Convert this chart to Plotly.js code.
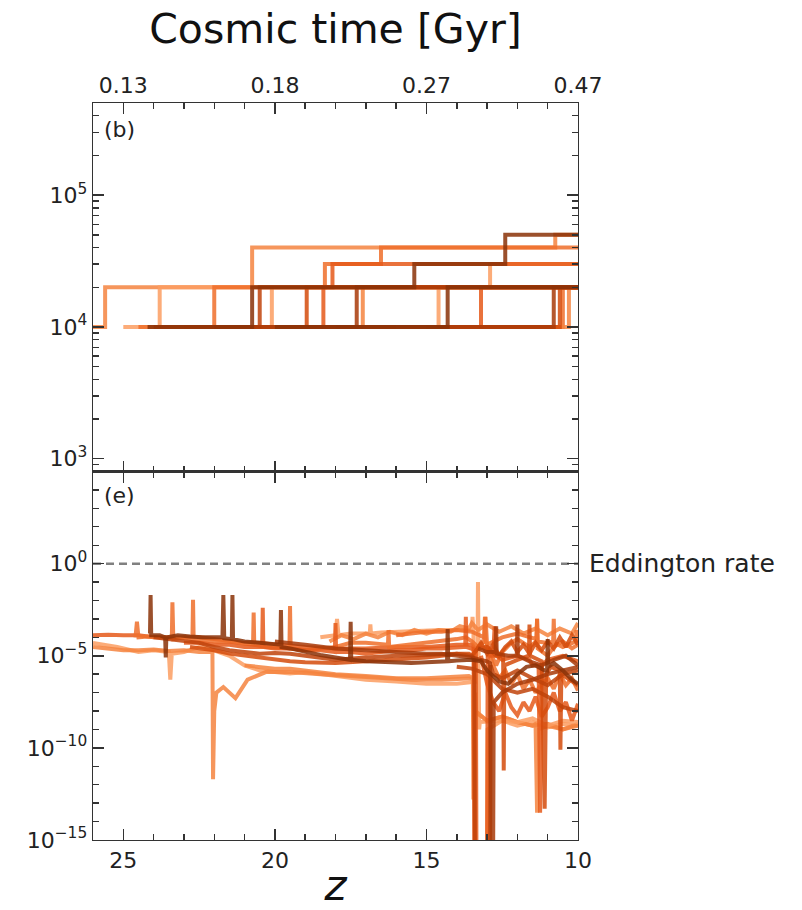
<!DOCTYPE html>
<html>
<head>
<meta charset="utf-8">
<script src="https://cdn.plot.ly/plotly-3.0.1.min.js"></script>
<style>html,body{margin:0;padding:0;background:#fff;}#chart{width:802px;height:910px;}</style>
</head>
<body>
<div id="chart"></div>
<script>
// ---------- axis ticks / labels ----------
const zTickVals = [25, 20, 15, 10];
const zMinorVals = [11, 12, 13, 14, 16, 17, 18, 19, 21, 22, 23, 24];
const zTickText = ['25', '20', '15', '10'];
const cosmicTimeText = ['0.13', '0.18', '0.27', '0.47'];
const zRange = [26, 10];
const massRange = [800, 5e5];
const massTickVals = [1e3, 1e4, 1e5];
const massTickText = ['10<sup>3</sup>', '10<sup>4</sup>', '10<sup>5</sup>'];
const eddRange = [1e-15, 1e5];
const eddTickVals = [1e-15, 1e-10, 1e-5, 1];
const eddTickText = ['10<sup>\u221215</sup>', '10<sup>\u221210</sup>', '10<sup>\u22125</sup>', '10<sup>0</sup>'];
const eddLineZ = [26, 10];
const eddLineV = [1, 1];

// colours (Oranges, light -> dark)
const palette = ['#fb9d62', '#f5843f', '#ee6e2a', '#e5591a', '#d44b0c', '#c0430a', '#a83a08', '#8a3107'];

// ---------- panel (b): BH mass steps ----------
const t1_z = [26, 25.6, 20.75, 10.75, 10];   const t1_m = [1e4, 2e4, 4e4, 5e4, 5e4];
const t3_z = [25.0, 23.8, 12.9, 10];          const t3_m = [1e4, 2e4, 3e4, 3e4];
const t2_z = [24.5, 22.0, 18.35, 16.5, 10];   const t2_m = [1e4, 2e4, 3e4, 4e4, 4e4];
const t6_z = [23.5, 20.1, 10];                const t6_m = [1e4, 2e4, 2e4];
const t8_z = [22.5, 18.4, 18.1, 10];          const t8_m = [1e4, 2e4, 3e4, 3e4];
const t10_z = [21.5, 17.1, 10];               const t10_m = [1e4, 2e4, 2e4];
const t11_z = [21.0, 14.6, 10];               const t11_m = [1e4, 2e4, 2e4];
const t13_z = [19.0, 13.2, 10];               const t13_m = [1e4, 2e4, 2e4];
const t15_z = [17.0, 10.5, 10];               const t15_m = [1e4, 2e4, 2e4];
const t16_z = [16.0, 10.3, 10];               const t16_m = [1e4, 2e4, 2e4];
const t5_z = [24.0, 20.5, 10];                const t5_m = [1e4, 2e4, 2e4];
const t7_z = [23.0, 18.95, 10];               const t7_m = [1e4, 2e4, 2e4];
const t17_z = [15.0, 10.6, 10];               const t17_m = [1e4, 2e4, 2e4];
const t9_z = [22.0, 17.3, 10];                const t9_m = [1e4, 2e4, 2e4];
const t14_z = [18.0, 10.8, 10];               const t14_m = [1e4, 2e4, 2e4];
const t12_z = [20.0, 14.3, 10];               const t12_m = [1e4, 2e4, 2e4];
const t4_z = [24.2, 20.75, 15.4, 12.4, 10];   const t4_m = [1e4, 2e4, 3e4, 5e4, 5e4];

const topSeries = [
  [t1_z, t1_m, 1], [t3_z, t3_m, 0], [t2_z, t2_m, 2], [t6_z, t6_m, 0], [t8_z, t8_m, 3],
  [t10_z, t10_m, 1], [t11_z, t11_m, 0], [t13_z, t13_m, 3], [t15_z, t15_m, 2], [t16_z, t16_m, 1],
  [t5_z, t5_m, 5], [t7_z, t7_m, 4], [t17_z, t17_m, 4], [t9_z, t9_m, 6], [t14_z, t14_m, 6],
  [t12_z, t12_m, 7], [t4_z, t4_m, 7]
];

// ---------- panel (e): accretion rate ----------
const b2_z = [26, 25.2, 24.5, 24, 23.5, 23.45, 23.4, 23.0, 22.5, 22.2, 21.5, 21.0, 20.5, 20.0, 19.5, 19.0, 18.5, 18.0, 17.0, 16.0, 15.0, 14.0, 13.5, 13.32, 13.3, 13.28, 13.26, 13.24, 12.5, 12.0, 11.5, 11.0, 10.5, 10];
const b2_v = [5e-5, 3e-5, 1.6e-5, 2e-5, 1.6e-5, 5e-7, 1.3e-5, 1.6e-5, 3e-5, 2.5e-5, 1e-5, 3e-6, 1.6e-6, 1.3e-6, 1.1e-6, 1.3e-6, 1e-6, 8e-7, 5e-7, 4e-7, 3e-7, 3e-7, 4e-7, 4e-7, 1e-1, 4e-7, 1e-9, 2.5e-9, 3e-9, 1.6e-9, 2.5e-9, 1.3e-9, 2e-9, 1.6e-9];

const b1_z = [26, 25.5, 25, 24.5, 24, 23.5, 23, 22.5, 22.06, 22.04, 22.0, 21.93, 21.7, 21.3, 20.9, 20.3, 19.5, 18.5, 17.5, 16.5, 15.5, 14.5, 13.8, 13.47, 13.45, 13.42, 13.0, 12.5, 12.0, 11.5, 11.0, 10.5, 10];
const b1_v = [3e-5, 2.5e-5, 2e-5, 2e-5, 2.2e-5, 1.8e-5, 2e-5, 1.6e-5, 1.6e-5, 2e-12, 1e-8, 1e-7, 2e-7, 5e-8, 5e-7, 1.3e-6, 1.3e-6, 1e-6, 8e-7, 6e-7, 5e-7, 5e-7, 6e-7, 6e-7, 1.6e-13, 1e-8, 3e-9, 5e-9, 2.5e-9, 1.6e-9, 2e-9, 1e-9, 1.6e-9];

const b8_z = [21.0, 20.5, 20.0, 19.5, 19.0, 18.5, 18.0, 17.0, 16.0, 15.0, 14.0, 13.6, 13.45, 13.42, 13.4, 13.38, 13.0, 12.5, 12.0, 11.5, 11.4, 11.35, 11.3, 11.0, 10.5, 10.0];
const b8_v = [3e-6, 2.5e-6, 2e-6, 2e-6, 1.6e-6, 1.3e-6, 1e-6, 8e-7, 6e-7, 6e-7, 8e-7, 8e-7, 6e-7, 1.6e-13, 1e-7, 1e-8, 3e-9, 5e-9, 2.5e-9, 1.6e-9, 2e-9, 3e-14, 1e-9, 1.6e-9, 1e-9, 2e-9];

const b11_z = [18.5, 18.0, 17.95, 17.9, 17.5, 17.0, 16.87, 16.85, 16.83, 16.5, 16.0, 15.5, 15.0, 14.5, 14.0, 13.5, 13.48, 13.45, 13.4, 13.0, 12.98, 12.5, 12.0, 11.5, 11.0, 10.5, 10.0];
const b11_v = [1e-4, 1.3e-4, 1e-3, 1.3e-4, 1.6e-4, 1.6e-4, 1.6e-4, 5e-4, 1.6e-4, 1.8e-4, 2e-4, 2.2e-4, 2.5e-4, 2.5e-4, 2.5e-4, 2.5e-4, 1.3e-3, 2.5e-4, 1e-16, 1e-16, 1e-9, 3e-9, 2.5e-9, 4e-9, 1.6e-9, 3e-9, 2.5e-9];

const b15_z = [18.2, 17.8, 17.4, 17.0, 16.6, 16.2, 15.8, 15.4, 15.0, 14.6, 14.2, 13.9, 13.6, 13.5, 13.3, 13.0, 12.6, 12.2, 11.8, 11.4, 11.0, 10.6, 10.2, 10.0];
const b15_v = [6e-5, 1.3e-4, 8e-5, 1.6e-4, 1e-4, 2e-4, 1.3e-4, 2.5e-4, 1.6e-4, 2.5e-4, 2e-4, 4e-4, 3e-4, 6e-4, 2.5e-4, 5e-4, 2e-4, 4e-4, 1.6e-4, 3e-4, 1.3e-4, 3e-4, 1.6e-4, 6e-4];

const b13_z = [26, 25.5, 25, 24.5, 24.0, 23.5, 23.1, 22.5, 22.0, 21.5, 21.0, 20.5, 20.0, 19.0, 18.0, 17.0, 16.0, 15.0, 14.0, 13.5, 13.44, 13.42];
const b13_v = [1.3e-4, 1.4e-4, 1.3e-4, 1.3e-4, 1e-4, 1e-4, 1.1e-4, 1e-4, 8e-5, 6e-5, 5e-5, 5e-5, 4e-5, 3e-5, 2.5e-5, 2.5e-5, 3e-5, 3e-5, 4e-5, 4e-5, 3e-5, 1e-16];

const b3_z = [24.6, 24.55, 24.5, 24.2, 23.8, 23.4, 23.38, 23.35, 23.0, 22.72, 22.7, 22.68, 22.3, 21.9, 21.5, 21.0, 20.72, 20.7, 20.68, 20.3, 19.52, 19.5, 19.48, 19.0, 18.5, 18.0, 17.5, 17.0, 16.27, 16.25, 16.23, 15.5, 15.0, 14.5, 14.0, 13.7, 13.5, 13.3, 13.1, 13.05, 13.0, 12.9, 12.7, 12.5, 12.2, 12.0, 11.6, 11.37, 11.35, 11.33, 11.0, 10.8, 10.5, 10.2, 10];
const b3_v = [1e-4, 7e-4, 1e-4, 1.1e-4, 1e-4, 9e-5, 8e-3, 8e-5, 1e-4, 8e-5, 1.1e-2, 8e-5, 7e-5, 6e-5, 6e-5, 5e-5, 4e-5, 2.2e-3, 4e-5, 3e-5, 2.5e-5, 5e-3, 2.5e-5, 2e-5, 2.5e-5, 3e-5, 5e-5, 5e-5, 4e-5, 2.5e-4, 3e-5, 4e-5, 5e-5, 6e-5, 8e-5, 1e-4, 6e-5, 3e-5, 6e-5, 1.3e-3, 4e-5, 1.6e-5, 3e-6, 1.6e-5, 5e-5, 8e-5, 3e-5, 6e-5, 1e-3, 2.5e-5, 1e-5, 3e-5, 6e-5, 2.5e-5, 4e-5];

const b10_z = [16.0, 15.5, 15.0, 14.5, 14.0, 13.5, 13.1, 13.07, 13.05, 13.0, 12.5, 12.0, 11.5, 11.37, 11.35, 11.33, 11.0, 10.82, 10.8, 10.78, 10.5, 10.07, 10.05, 10.0];
const b10_v = [1.3e-4, 1.6e-4, 2e-4, 2e-4, 2.5e-4, 2e-4, 1e-4, 1.3e-3, 6e-5, 4e-5, 1e-4, 1.6e-4, 1e-4, 8e-5, 1e-3, 6e-5, 5e-5, 6e-5, 1e-3, 5e-5, 3e-5, 6e-5, 2.5e-4, 5e-5];

const b17_z = [13.0, 12.8, 12.6, 12.4, 12.2, 12.0, 11.8, 11.6, 11.4, 11.2, 11.0, 10.8, 10.6, 10.4, 10.2, 10.0];
const b17_v = [3e-5, 3e-6, 6e-7, 1.6e-6, 3e-7, 1e-6, 1.6e-7, 5e-7, 1e-7, 3e-7, 6e-7, 1.6e-7, 1e-6, 2.5e-7, 6e-7, 1.3e-7];

const b6_z = [23.0, 22.5, 22.0, 21.5, 21.0, 20.42, 20.4, 20.38, 20.0, 19.5, 19.0, 18.5, 18.02, 18.0, 17.98, 17.5, 17.0, 16.5, 16.0, 15.5, 15.0, 14.5, 14.0, 13.72, 13.7, 13.68, 13.37, 13.35, 13.0, 12.98, 12.8, 12.75, 12.7, 12.5, 12.0, 11.6, 11.5, 11.3, 11.25, 11.2, 11.0, 10.5, 10.0];
const b6_v = [5e-5, 5e-5, 4e-5, 4e-5, 3e-5, 3e-5, 4e-3, 3e-5, 2.5e-5, 2.5e-5, 2e-5, 2e-5, 1.6e-5, 6e-4, 1.6e-5, 1.6e-5, 1.3e-5, 1.6e-5, 2e-5, 2e-5, 2.5e-5, 2.5e-5, 3e-5, 3e-5, 1.3e-3, 3e-5, 2e-5, 1e-16, 1e-16, 1e-5, 1e-5, 4e-4, 1e-5, 6e-6, 1e-5, 6e-6, 3e-6, 3e-6, 3e-14, 3e-6, 6e-6, 1e-5, 5e-6];

const b16_z = [13.2, 13.0, 12.8, 12.6, 12.4, 12.2, 12.0, 11.8, 11.6, 11.4, 11.2, 11.0, 10.8, 10.6, 10.4, 10.2, 10.0];
const b16_v = [1e-5, 3e-7, 3e-8, 1e-8, 1e-7, 1.6e-8, 6e-9, 3e-8, 1e-8, 6e-8, 5e-9, 1.6e-8, 1e-7, 1e-8, 3e-8, 3e-9, 2.5e-8];

const b7_z = [22.8, 22.5, 22.0, 21.5, 21.0, 20.5, 20.0, 19.5, 19.0, 18.0, 17.0, 16.0, 15.0, 14.5, 14.0, 13.6, 13.5, 13.3, 13.0, 12.7, 12.47, 12.45, 12.43, 12.0, 11.62, 11.6, 11.58, 11.2, 11.1, 11.05, 10.9, 10.6, 10.58, 10.55, 10.3, 10.0];
const b7_v = [3e-5, 2.5e-5, 2e-5, 1.3e-5, 1e-5, 8e-6, 6e-6, 5e-6, 4.5e-6, 4e-6, 5e-6, 6e-6, 8e-6, 1e-5, 1.3e-5, 1.3e-5, 1e-5, 2.5e-5, 3e-5, 1e-5, 1e-5, 6e-12, 3e-6, 6e-6, 1e-5, 5e-4, 1e-5, 5e-6, 5e-14, 1e-6, 2.5e-6, 1.6e-6, 8e-11, 1e-6, 5e-7, 2.5e-7];

const b18_z = [13.4, 13.2, 13.0, 12.8, 12.6, 12.4, 12.2, 12.0, 11.8, 11.6, 11.4, 11.2, 11.0, 10.8, 10.6, 10.4, 10.2, 10.0];
const b18_v = [1.6e-5, 5e-5, 1.3e-5, 4e-5, 1e-5, 3e-5, 6e-5, 1.6e-5, 4e-5, 1.3e-5, 5e-5, 2e-5, 6e-5, 2.5e-5, 1e-4, 3e-5, 1.3e-4, 4e-5];

const b5_z = [24.0, 23.5, 23.0, 22.5, 22.0, 21.5, 21.0, 20.5, 20.0, 19.5, 19.0, 18.5, 18.0, 17.0, 16.0, 15.0, 14.0, 13.5, 13.42, 13.4, 12.9, 12.88, 12.8, 12.5, 12.2, 12.0, 11.5, 11.0, 10.5, 10.0];
const b5_v = [1e-4, 8e-5, 6e-5, 5e-5, 3e-5, 2e-5, 1.6e-5, 1.3e-5, 1.4e-5, 1.3e-5, 1e-5, 8e-6, 6e-6, 8e-6, 1e-5, 1.1e-5, 1.3e-5, 1e-5, 6e-6, 1e-16, 1e-16, 3e-6, 1e-6, 6e-7, 1e-6, 1.6e-6, 6e-7, 2.5e-7, 1e-6, 1.6e-6];

const b12_z = [14.0, 13.5, 13.0, 12.5, 12.0, 11.5, 11.0, 10.5, 10.0];
const b12_v = [2.5e-6, 2e-6, 1e-6, 1.6e-7, 1e-7, 1.6e-7, 6e-8, 1.6e-8, 1e-8];

const b9_z = [20.0, 19.5, 19.0, 18.0, 17.0, 16.0, 15.0, 14.5, 14.0, 13.5, 13.2, 13.0, 12.9, 12.85, 12.8, 12.78, 12.5, 12.0, 11.5, 11.0, 10.5, 10.0];
const b9_v = [6e-5, 5e-5, 4e-5, 2.5e-5, 2e-5, 1.6e-5, 1.3e-5, 1.3e-5, 1e-5, 8e-6, 6e-6, 5e-6, 4e-6, 1e-16, 1e-16, 3e-8, 1e-7, 3e-7, 5e-7, 1e-6, 1.6e-6, 2.5e-6];

const b14_z = [13.3, 13.0, 12.72, 12.7, 12.68, 12.3, 12.02, 12.0, 11.98, 11.6, 11.2, 10.8, 10.4, 10.0];
const b14_v = [2.5e-5, 1.6e-5, 1.6e-5, 4e-4, 1.3e-5, 1e-5, 1e-5, 5e-4, 1e-5, 5e-6, 3e-6, 6e-6, 1e-5, 3e-6];

const b4_z = [24.12, 24.1, 24.08, 23.8, 23.62, 23.6, 23.58, 23.2, 22.8, 22.4, 21.73, 21.7, 21.67, 21.42, 21.4, 21.38, 21.0, 20.5, 20.0, 19.82, 19.8, 19.78, 19.5, 19.0, 18.5, 18.0, 17.52, 17.5, 17.48, 17.0, 16.5, 16.0, 15.5, 15.0, 14.5, 14.32, 14.3, 14.28, 14.0, 13.5, 13.2, 13.0, 12.6, 12.3, 12.0, 11.7, 11.4, 11.1, 11.02, 11.0, 10.98, 10.8, 10.5, 10.2, 10];
const b4_v = [1.6e-4, 2e-2, 1.3e-4, 1.3e-4, 1e-4, 8e-6, 1e-4, 1.3e-4, 1.1e-4, 1e-4, 1e-4, 2e-2, 9e-5, 8e-5, 2e-2, 8e-5, 6e-5, 5e-5, 4e-5, 4e-5, 3e-3, 3e-5, 2.5e-5, 1.6e-5, 1.1e-5, 8e-6, 6e-6, 7e-4, 6e-6, 5e-6, 4.5e-6, 4e-6, 4e-6, 4.5e-6, 5e-6, 5e-6, 2.8e-4, 5e-6, 5.6e-6, 6e-6, 5e-6, 1.6e-6, 4e-7, 3e-7, 1e-6, 2.5e-6, 3e-6, 1.6e-6, 1.6e-6, 8e-5, 2.5e-6, 4e-6, 1.6e-6, 5e-7, 3e-7];

const bottomSeries = [
  [b2_z, b2_v, 0], [b1_z, b1_v, 1], [b8_z, b8_v, 1], [b11_z, b11_v, 0], [b15_z, b15_v, 1],
  [b13_z, b13_v, 3], [b3_z, b3_v, 2], [b10_z, b10_v, 2], [b17_z, b17_v, 2], [b6_z, b6_v, 3],
  [b16_z, b16_v, 3], [b7_z, b7_v, 4], [b18_z, b18_v, 4], [b5_z, b5_v, 5], [b12_z, b12_v, 5],
  [b9_z, b9_v, 6], [b14_z, b14_v, 6], [b4_z, b4_v, 7]
];

// ---------- traces ----------
const traces = [];
topSeries.forEach(function (s) {
  traces.push({
    x: s[0], y: s[1], xaxis: 'x2', yaxis: 'y2', type: 'scatter', mode: 'lines',
    line: {color: palette[s[2]], width: 4, shape: 'hv'}, opacity: 0.85, hoverinfo: 'skip'
  });
});
traces.push({
  x: eddLineZ, y: eddLineV, xaxis: 'x', yaxis: 'y', type: 'scatter', mode: 'lines',
  line: {color: '#808080', width: 2.5, dash: '8px,5px'}, hoverinfo: 'skip'
});
bottomSeries.forEach(function (s) {
  traces.push({
    x: s[0], y: s[1], xaxis: 'x', yaxis: 'y', type: 'scatter', mode: 'lines',
    line: {color: palette[s[2]], width: 4}, opacity: 0.85, hoverinfo: 'skip'
  });
});

const axisCol = '#333333';
const tickFont = {family: 'DejaVu Sans', size: 22, color: '#222222'};
function xCommon(labels) {
  return {
    range: zRange, autorange: false, tickmode: 'array', tickvals: zTickVals, ticktext: labels,
    ticks: 'inside', ticklen: 11, tickwidth: 1.6, tickcolor: axisCol,
    minor: {tickmode: 'array', tickvals: zMinorVals, ticks: 'inside', ticklen: 6, tickwidth: 1.5, tickcolor: axisCol, showgrid: false},
    showline: true, linecolor: axisCol, linewidth: 1.4, mirror: 'allticks',
    showgrid: false, zeroline: false, tickfont: tickFont
  };
}
const xa = xCommon(zTickText);
xa.domain = [0, 1]; xa.anchor = 'y';
xa.title = {text: '<i>z</i>', font: {family: 'DejaVu Sans', size: 42, color: '#111'}, standoff: 2};
const xa2 = xCommon(cosmicTimeText);
xa2.domain = [0, 1]; xa2.anchor = 'y2'; xa2.side = 'top'; xa2.linewidth = 1.0;

const layout = {
  width: 802, height: 910,
  margin: {l: 93, r: 224, t: 103, b: 70},
  paper_bgcolor: '#ffffff', plot_bgcolor: '#ffffff',
  showlegend: false,
  title: {text: 'Cosmic time [Gyr]', font: {family: 'DejaVu Sans', size: 41, color: '#111'},
          x: 0.5, xref: 'paper', xanchor: 'center', y: 0.968, yref: 'container', yanchor: 'middle'},
  xaxis: xa, xaxis2: xa2,
  yaxis2: {
    domain: [0.5, 1], anchor: 'x2', type: 'log',
    range: [Math.log10(massRange[0]), Math.log10(massRange[1])], autorange: false,
    tickmode: 'array', tickvals: massTickVals, ticktext: massTickText,
    ticks: 'inside', ticklen: 11, tickwidth: 1.5, tickcolor: axisCol,
    minor: {dtick: 'D1', ticks: 'inside', ticklen: 6, tickwidth: 1.4, tickcolor: axisCol, showgrid: false},
    showline: true, linecolor: axisCol, linewidth: 1.4, mirror: 'allticks',
    showgrid: false, zeroline: false, tickfont: tickFont
  },
  yaxis: {
    domain: [0, 0.5], anchor: 'x', type: 'log',
    range: [Math.log10(eddRange[0]), Math.log10(eddRange[1])], autorange: false,
    tickmode: 'array', tickvals: eddTickVals, ticktext: eddTickText,
    ticks: 'inside', ticklen: 11, tickwidth: 1.5, tickcolor: axisCol,
    minor: {tickmode: 'linear', tick0: 0, dtick: 1, ticks: 'inside', ticklen: 6, tickwidth: 1.4, tickcolor: axisCol, showgrid: false},
    showline: true, linecolor: axisCol, linewidth: 1.4, mirror: 'allticks',
    showgrid: false, zeroline: false, tickfont: tickFont
  },
  annotations: [
    {text: '(b)', xref: 'paper', yref: 'paper', x: 0, y: 1, xanchor: 'left', yanchor: 'top',
     xshift: 9, yshift: -12, showarrow: false, font: {family: 'DejaVu Sans', size: 22, color: '#222'}},
    {text: '(e)', xref: 'paper', yref: 'paper', x: 0, y: 0.5, xanchor: 'left', yanchor: 'top',
     xshift: 9, yshift: -9, showarrow: false, font: {family: 'DejaVu Sans', size: 22, color: '#222'}},
    {text: 'Eddington rate', xref: 'paper', yref: 'y', x: 1, y: Math.log10(eddLineV[0]), xanchor: 'left', yanchor: 'middle',
     xshift: 9, showarrow: false, font: {family: 'DejaVu Sans', size: 25, color: '#222'}}
  ]
};

Plotly.newPlot('chart', traces, layout, {displayModeBar: false, staticPlot: true});
</script>
</body>
</html>
